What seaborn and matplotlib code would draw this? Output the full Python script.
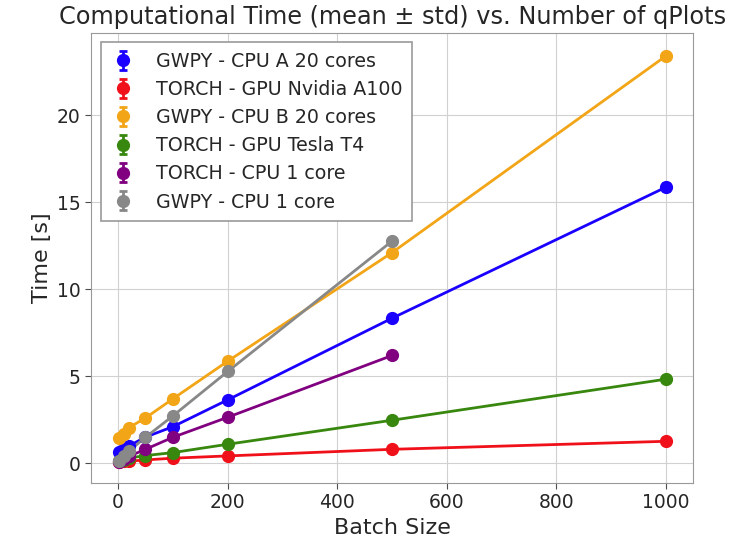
import matplotlib
matplotlib.use("Agg")
import matplotlib.pyplot as plt
import seaborn as sns
import numpy as np

sns.set_style("whitegrid", {
    "xtick.bottom": True,
    "ytick.left": True,
    "axes.edgecolor": "0.6",
    "grid.color": "0.82",
})
plt.rcParams["font.family"] = ["DejaVu Sans"]

batch = [1, 10, 20, 50, 100, 200, 500, 1000]

gwpy_cpu_a20 = [0.67, 0.80, 1.00, 1.50, 2.10, 3.64, 8.33, 15.86]
gwpy_cpu_a20_std = [0.03, 0.03, 0.04, 0.05, 0.06, 0.08, 0.12, 0.22]

torch_a100 = [0.08, 0.10, 0.12, 0.19, 0.29, 0.42, 0.80, 1.26]
torch_a100_std = [0.01, 0.01, 0.01, 0.02, 0.02, 0.03, 0.04, 0.06]

gwpy_cpu_b20 = [1.44, 1.70, 2.05, 2.60, 3.70, 5.86, 12.10, 23.40]
gwpy_cpu_b20_std = [0.04, 0.04, 0.05, 0.05, 0.06, 0.08, 0.10, 0.15]

torch_t4 = [0.10, 0.20, 0.30, 0.44, 0.61, 1.09, 2.47, 4.83]
torch_t4_std = [0.01, 0.01, 0.02, 0.02, 0.03, 0.04, 0.06, 0.10]

torch_cpu1 = [0.05, 0.25, 0.40, 0.80, 1.49, 2.64, 6.19]
torch_cpu1_std = [0.01, 0.02, 0.02, 0.03, 0.04, 0.06, 0.10]

gwpy_cpu1 = [0.13, 0.40, 0.70, 1.49, 2.72, 5.27, 12.76]
gwpy_cpu1_std = [0.01, 0.02, 0.03, 0.04, 0.06, 0.08, 0.12]

series = [
    ("GWPY - CPU A 20 cores", batch, gwpy_cpu_a20, gwpy_cpu_a20_std, "#1a00ff"),
    ("TORCH - GPU Nvidia A100", batch, torch_a100, torch_a100_std, "#f0101a"),
    ("GWPY - CPU B 20 cores", batch, gwpy_cpu_b20, gwpy_cpu_b20_std, "#f2a516"),
    ("TORCH - GPU Tesla T4", batch, torch_t4, torch_t4_std, "#38870f"),
    ("TORCH - CPU 1 core", batch[:7], torch_cpu1, torch_cpu1_std, "#800080"),
    ("GWPY - CPU 1 core", batch[:7], gwpy_cpu1, gwpy_cpu1_std, "#888888"),
]

fig = plt.figure(figsize=(7.48, 5.47), dpi=100)
ax = fig.add_axes([0.122, 0.117, 0.805, 0.823])

for label, x, y, s, c in series:
    sns.lineplot(x=x, y=y, ax=ax, color=c, linewidth=2, legend=False)
    ax.errorbar(x, y, yerr=s, fmt="o", color=c, markersize=8.5,
                capsize=3, elinewidth=2, capthick=2, label=label)

ax.set_title("Computational Time (mean \u00b1 std) vs. Number of qPlots",
             fontsize=17.3, pad=6)
ax.set_xlabel("Batch Size", fontsize=16)
ax.set_ylabel("Time [s]", fontsize=16)
ax.tick_params(labelsize=13.5, length=4, color="0.3")
ax.set_xticks([0, 200, 400, 600, 800, 1000])
ax.set_yticks([0, 5, 10, 15, 20])

leg = ax.legend(loc="upper left", fontsize=13.7, frameon=True,
                fancybox=False, edgecolor="0.6", framealpha=1,
                handlelength=1.3, handletextpad=1.1, borderpad=0.5,
                labelspacing=0.48)
leg.get_frame().set_linewidth(1.2)

fig.savefig("out.png", dpi=100)
